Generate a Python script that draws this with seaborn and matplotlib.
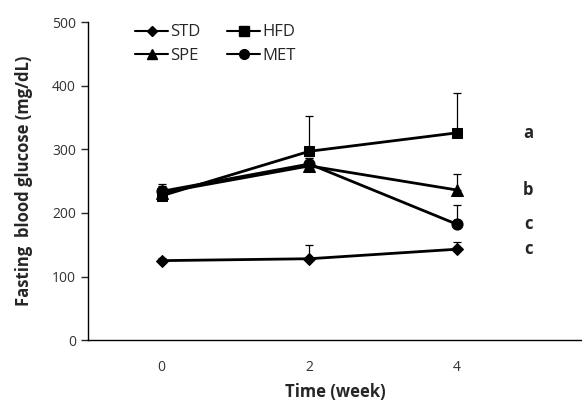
import numpy as np
import pandas as pd
import seaborn as sns
import matplotlib.pyplot as plt
from matplotlib.lines import Line2D

weeks = ["0", "2", "4"]
groups = ["STD", "HFD", "SPE", "MET"]
std_mean = [125, 128, 143]
std_err = [4, 21, 12]
hfd_mean = [227, 297, 326]
hfd_err = [8, 55, 63]
spe_mean = [232, 274, 236]
spe_err = [10, 12, 26]
met_mean = [234, 277, 182]
met_err = [12, 10, 31]
letters = ["a", "b", "c", "c"]  # HFD, SPE, MET, STD at week 4

sns.set_style("white")
plt.rcParams['font.family'] = ['Open Sans', 'DejaVu Sans']

rows = []
for g, m, e in [("STD", std_mean, std_err), ("HFD", hfd_mean, hfd_err),
                ("SPE", spe_mean, spe_err), ("MET", met_mean, met_err)]:
    for i, w in enumerate(weeks):
        rows.append({"group": g, "pos": i, "week": w, "glucose": m[i], "err": e[i]})
df = pd.DataFrame(rows)

markers = {"STD": "D", "HFD": "s", "SPE": "^", "MET": "o"}
msizes = {"STD": 6, "HFD": 7.5, "SPE": 8, "MET": 8}

fig = plt.figure(figsize=(5.82, 4.03), dpi=100)
ax = fig.add_axes([0.151, 0.156, 0.849, 0.789])

# error bars (upper only)
for g in groups:
    d = df[df.group == g]
    ax.errorbar(d["pos"], d["glucose"], yerr=[np.zeros(len(d)), d["err"]],
                fmt="none", ecolor="black", elinewidth=0.9, capsize=3, capthick=0.9)

for g in groups:
    d = df[df.group == g]
    sns.lineplot(data=d, x="pos", y="glucose", ax=ax, color="black", linewidth=2,
                 marker=markers[g], markersize=msizes[g], markeredgecolor="black",
                 markerfacecolor="black", label=g, legend=False)

# significance letters
week4 = df[df.pos == 2].set_index("group")["glucose"]
for g, l in zip(["HFD", "SPE", "MET", "STD"], letters):
    ax.text(2.48, week4[g], l, fontsize=12, fontweight="bold", va="center", ha="center")

ax.set_xlim(-0.5, 2.845)
ax.set_ylim(0, 500)
ax.set_yticks(range(0, 501, 100))
ax.set_xticks(range(len(weeks)))
ax.set_xticklabels(weeks)
ax.set_xticks([-0.5, 0.5, 1.5, 2.5], minor=True)
ax.tick_params(axis="x", which="major", length=0, labelsize=10, pad=14, labelcolor="#333333")
ax.tick_params(axis="x", which="minor", length=4, direction="out", width=1)
ax.tick_params(axis="y", length=5, direction="out", width=1, labelsize=10, labelcolor="#333333", left=True)
for s in ["top", "right"]:
    ax.spines[s].set_visible(False)
for s in ["left", "bottom"]:
    ax.spines[s].set_color("black")
    ax.spines[s].set_linewidth(1)

ax.set_xlabel("Time (week)", fontsize=12, fontweight="bold", labelpad=6)
ax.set_ylabel("Fasting  blood glucose (mg/dL)", fontsize=12, fontweight="bold", labelpad=14)

leg_order = ["STD", "SPE", "HFD", "MET"]
handles = [Line2D([], [], color="black", linewidth=1.5, marker=markers[g],
                  markersize=msizes[g] - 1) for g in leg_order]
ax.legend(handles, leg_order, ncol=2, frameon=False, loc="upper left",
          bbox_to_anchor=(0.065, 1.04), fontsize=12, handlelength=2,
          handletextpad=0.1, columnspacing=1.6, labelspacing=0.45)

fig.savefig("out.png", dpi=100)
